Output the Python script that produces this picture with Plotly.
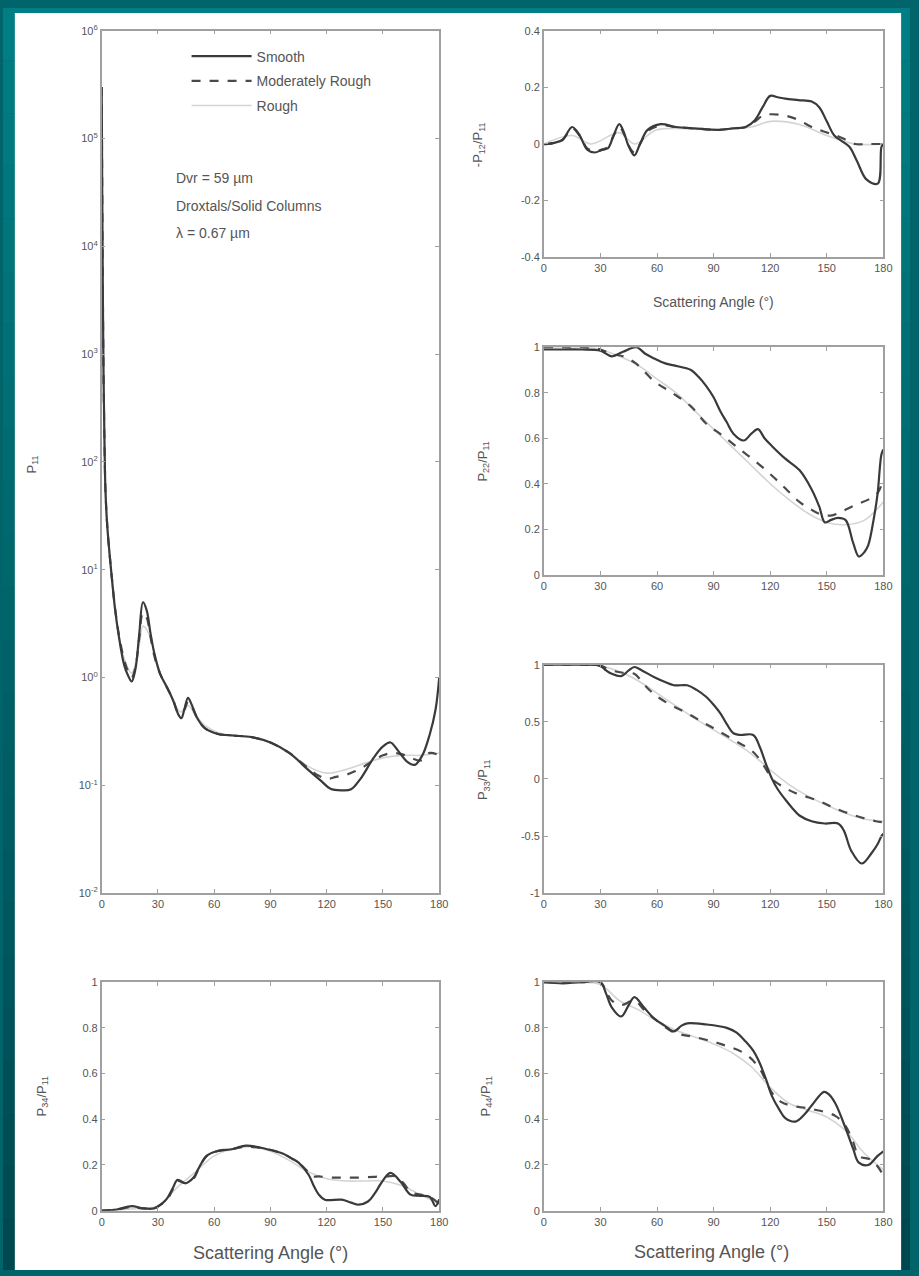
import plotly.graph_objects as go

W, H = 919, 1276

# ---------------- data ----------------
ticks_angle = [0, 30, 60, 90, 120, 150, 180]

# P11 (log scale)
p11_s_ang = [0, 0.3, 0.6, 1, 1.5, 2, 3, 5, 7, 9, 12, 14, 16, 18, 20, 22, 24, 26, 28, 31, 35, 38, 41, 42.5, 44, 46, 48, 51, 55,
             62, 70, 80, 90, 100, 110, 117, 122, 128, 133, 138, 145, 150, 154, 158, 163, 167, 171, 175, 178, 180]
p11_s_val = [3e5, 3e4, 4e3, 600, 150, 55, 25, 10, 4.5, 2.5, 1.3, 1.05, 0.92, 1.2, 2.5, 5.0, 4.2, 2.6, 1.7, 1.1, 0.8, 0.62, 0.45, 0.42, 0.5, 0.65, 0.56, 0.42, 0.34,
             0.3, 0.29, 0.28, 0.25, 0.2, 0.14, 0.11, 0.093, 0.09, 0.092, 0.115, 0.18, 0.23, 0.25, 0.21, 0.165, 0.155, 0.19, 0.3, 0.5, 1.0]
p11_m_ang = [0, 0.3, 0.6, 1, 1.5, 2, 3, 5, 7, 9, 12, 14, 16, 18, 20, 22, 24, 26, 28, 31, 35, 38, 41, 44, 46, 48, 51, 55,
             62, 70, 80, 90, 100, 110, 115, 120, 125, 130, 135, 140, 145, 150, 155, 160, 165, 170, 175, 180]
p11_m_val = [3e5, 3e4, 4e3, 600, 150, 55, 25, 10, 4.6, 2.6, 1.45, 1.15, 1.0, 1.25, 2.3, 4.0, 3.6, 2.4, 1.6, 1.1, 0.8, 0.63, 0.47, 0.5, 0.6, 0.54, 0.42, 0.34,
             0.3, 0.29, 0.28, 0.25, 0.2, 0.145, 0.125, 0.115, 0.12, 0.125, 0.135, 0.15, 0.17, 0.19, 0.2, 0.195, 0.18, 0.17, 0.2, 0.19]
p11_r_ang = [0, 0.3, 0.6, 1, 1.5, 2, 3, 5, 7, 9, 12, 16, 20, 22, 25, 28, 32, 38, 42, 46, 50, 55, 62, 70, 80, 90, 100, 110,
             120, 130, 140, 150, 160, 170, 180]
p11_r_val = [2e5, 2.5e4, 3.5e3, 550, 140, 52, 24, 9.5, 4.4, 2.6, 1.5, 1.1, 2.0, 3.0, 2.6, 1.7, 1.0, 0.62, 0.48, 0.55, 0.45, 0.36,
             0.31, 0.29, 0.28, 0.25, 0.2, 0.15, 0.13, 0.14, 0.16, 0.18, 0.19, 0.19, 0.2]

# -P12/P11
p12_s_ang = [0, 2, 6, 10, 15, 19, 23, 27, 31, 34, 37, 40, 42.5, 44.5, 48, 51, 55, 62, 70, 80, 93, 100, 107, 112, 116, 120, 124, 128,
             135, 142, 146, 150, 154, 158, 162, 166, 171, 177, 179, 180]
p12_s_val = [0, 0, 0.005, 0.015, 0.06, 0.03, -0.02, -0.03, -0.02, -0.015, 0.03, 0.07, 0.04, 0.0, -0.04, 0.0, 0.05, 0.07, 0.06, 0.055, 0.05, 0.055, 0.06, 0.085, 0.13, 0.17, 0.165, 0.16,
             0.155, 0.15, 0.13, 0.08, 0.03, 0.01, -0.01, -0.06, -0.125, -0.14, -0.01, 0.0]
p12_m_ang = [0, 2, 6, 10, 15, 19, 23, 27, 31, 34, 37, 40, 42.5, 44.5, 48, 51, 55, 62, 70, 80, 93, 100, 107, 112, 116, 120, 128,
             135, 142, 148, 155, 160, 165, 172, 180]
p12_m_val = [0, 0, 0.005, 0.015, 0.055, 0.03, -0.015, -0.025, -0.02, -0.01, 0.03, 0.06, 0.035, 0.0, -0.03, 0.0, 0.045, 0.065, 0.06, 0.055, 0.05, 0.055, 0.06, 0.08, 0.1, 0.105, 0.1,
             0.085, 0.06, 0.045, 0.03, 0.015, 0.0, 0.0, 0.0]
p12_r_ang = [0, 15, 25, 40, 48, 60, 90, 110, 120, 135, 150, 165, 180]
p12_r_val = [0, 0.03, 0.0, 0.04, 0.0, 0.05, 0.05, 0.06, 0.08, 0.07, 0.03, 0.0, 0.0]

# P22/P11
p22_s_ang = [0, 10, 20, 30, 36, 42, 49, 54, 58.6, 64, 69, 78, 82, 86, 90, 93.5, 97, 100.5, 106, 110, 113.5, 117, 121, 128,
             135.5, 142, 146, 149, 152, 156, 160, 164, 167, 170, 172, 175, 177, 179, 180]
p22_s_val = [0.99, 0.99, 0.99, 0.985, 0.96, 0.98, 1.0, 0.97, 0.95, 0.93, 0.92, 0.9, 0.87, 0.83, 0.78, 0.72, 0.67, 0.62, 0.59, 0.62, 0.64, 0.6, 0.565, 0.51,
             0.46, 0.375, 0.3, 0.23, 0.24, 0.25, 0.24, 0.14, 0.08, 0.1, 0.13, 0.25, 0.36, 0.53, 0.55]
p22_m_ang = [0, 10, 20, 30, 36, 42, 48.6, 58.6, 68, 78, 86, 95, 104, 112, 121, 128, 135.5, 142, 147, 152, 156, 161, 166, 172, 177, 180]
p22_m_val = [1.0, 1.0, 1.0, 0.99, 0.97, 0.96, 0.93, 0.85, 0.8, 0.74, 0.665, 0.61, 0.55, 0.5, 0.435, 0.38, 0.32, 0.285, 0.265, 0.26, 0.27, 0.29, 0.31, 0.33, 0.36, 0.42]
p22_r_ang = [0, 20, 30, 40, 50, 60, 70, 80, 90, 100, 110, 120, 130, 140, 150, 160, 170, 180]
p22_r_val = [1.0, 1.0, 0.99, 0.96, 0.92, 0.86, 0.8, 0.72, 0.64, 0.56, 0.48, 0.4, 0.33, 0.27, 0.23, 0.22, 0.24, 0.32]

# P33/P11
p33_s_ang = [0, 10, 20, 30, 33, 36, 41, 45, 48, 52, 58.6, 64, 69, 76, 81, 86, 90, 93.6, 97, 100.5, 104, 111, 114.5, 118, 121, 124,
             128, 132, 135.5, 142, 149, 156, 159, 163, 168.5, 173.7, 177, 179, 180]
p33_s_val = [1.0, 1.0, 1.0, 0.99, 0.95, 0.92, 0.9, 0.95, 0.98, 0.95, 0.89, 0.85, 0.82, 0.82, 0.78, 0.72, 0.65, 0.575, 0.48, 0.4, 0.385, 0.385, 0.28, 0.12, 0.0, -0.09,
             -0.18, -0.26, -0.32, -0.37, -0.39, -0.39, -0.45, -0.63, -0.74, -0.65, -0.57, -0.5, -0.48]
p33_m_ang = [0, 20, 30, 36, 42, 48, 53, 58.6, 66, 76, 85, 93.6, 104, 110, 114.5, 118, 121, 127, 133, 140, 147, 152, 158, 165, 171, 176, 180]
p33_m_val = [1.0, 1.0, 0.99, 0.95, 0.93, 0.92, 0.83, 0.74, 0.66, 0.575, 0.49, 0.41, 0.31, 0.25, 0.17, 0.08, 0.0, -0.07, -0.12, -0.16, -0.2, -0.24, -0.28, -0.32, -0.35, -0.37, -0.38]
p33_r_ang = [0, 20, 30, 40, 50, 60, 70, 80, 90, 100, 110, 120, 130, 140, 150, 160, 170, 180]
p33_r_val = [1.0, 1.0, 0.99, 0.94, 0.86, 0.75, 0.64, 0.53, 0.43, 0.33, 0.22, 0.08, -0.05, -0.15, -0.23, -0.3, -0.35, -0.37]

# P44/P11
p44_s_ang = [0, 10, 20, 30, 33, 36, 41, 45, 48, 53, 58.6, 64, 69, 73, 76, 86, 97, 102, 107, 111, 114.5, 118, 121, 125, 128, 133.5,
             138, 142, 148.5, 151, 154.5, 160, 164, 167, 172, 177, 180]
p44_s_val = [1.0, 0.995, 1.0, 1.0, 0.95, 0.89, 0.85, 0.9, 0.935, 0.89, 0.84, 0.81, 0.785, 0.81, 0.82, 0.815, 0.8, 0.78, 0.74, 0.7, 0.645, 0.57, 0.5, 0.44, 0.405, 0.39,
             0.42, 0.46, 0.52, 0.51, 0.47, 0.36, 0.27, 0.21, 0.2, 0.24, 0.26]
p44_m_ang = [0, 10, 20, 30, 33, 36, 41, 48, 53, 58.6, 69, 80, 93.6, 107, 114.5, 121, 126, 131, 142, 154.5, 160, 164, 167, 174, 180]
p44_m_val = [1.0, 1.0, 1.0, 1.0, 0.96, 0.92, 0.9, 0.92, 0.88, 0.84, 0.78, 0.76, 0.73, 0.685, 0.62, 0.515, 0.475, 0.46, 0.445, 0.415, 0.37, 0.3, 0.24, 0.22, 0.155]
p44_r_ang = [0, 20, 30, 40, 50, 60, 70, 80, 90, 100, 110, 120, 130, 140, 150, 160, 170, 180]
p44_r_val = [1.0, 1.0, 0.99, 0.92, 0.88, 0.83, 0.79, 0.76, 0.73, 0.69, 0.63, 0.54, 0.47, 0.44, 0.41, 0.35, 0.25, 0.18]

# P34/P11
p34_s_ang = [0, 8, 16, 22, 28, 32, 35, 38, 40.5, 44.7, 49, 52, 56, 61.4, 70, 77, 87.7, 96.5, 101, 105, 110.5, 113, 115.8, 119, 128,
             133, 137, 142, 146, 149, 154, 159.5, 164.7, 170, 175, 178, 180]
p34_s_val = [0, 0.005, 0.02, 0.01, 0.01, 0.03, 0.055, 0.1, 0.135, 0.12, 0.145, 0.19, 0.24, 0.26, 0.27, 0.285, 0.27, 0.25, 0.23, 0.21, 0.155, 0.11, 0.07, 0.048, 0.048,
             0.035, 0.026, 0.04, 0.08, 0.12, 0.165, 0.125, 0.07, 0.065, 0.06, 0.02, 0.05]
p34_m_ang = [0, 8, 16, 22, 28, 32, 35, 38, 40.5, 44.7, 49, 52, 56, 61.4, 70, 77, 87.7, 96.5, 101, 105, 110, 112, 115.8, 122, 128,
             137, 145, 152, 157, 161, 165, 170, 175, 180]
p34_m_val = [0, 0.005, 0.015, 0.01, 0.01, 0.03, 0.05, 0.095, 0.13, 0.12, 0.14, 0.19, 0.24, 0.26, 0.27, 0.28, 0.27, 0.25, 0.23, 0.21, 0.17, 0.15, 0.15, 0.145, 0.145,
             0.145, 0.148, 0.15, 0.15, 0.12, 0.08, 0.07, 0.06, 0.03]
p34_r_ang = [0, 20, 30, 40, 50, 60, 70, 80, 90, 100, 110, 120, 130, 140, 150, 160, 170, 180]
p34_r_val = [0, 0.01, 0.02, 0.1, 0.17, 0.24, 0.27, 0.28, 0.26, 0.22, 0.17, 0.14, 0.13, 0.13, 0.13, 0.11, 0.07, 0.03]

series_names = ["Smooth", "Moderately Rough", "Rough"]

# ---------------- styling helpers ----------------
FONT = "Arial"
TXT = "#555555"
AX = "#a0a0a0"
S_STYLE = dict(color="#3a3a3a", width=2.2)
M_STYLE = dict(color="#4a4a4a", width=2.2, dash="dash")
R_STYLE = dict(color="#d4d4d4", width=1.6)
LEGENDS = ["legend", "legend2", "legend3"]


def px2x(px):
    return px / W


def py2y(py):
    return 1 - py / H


fig = go.Figure()

panels = [
    ("p11", "x", "y", (100, 442, 23, 895), (p11_s_ang, p11_s_val, p11_m_ang, p11_m_val, p11_r_ang, p11_r_val)),
    ("p12", "x2", "y2", (548, 892, 23, 252), (p12_s_ang, p12_s_val, p12_m_ang, p12_m_val, p12_r_ang, p12_r_val)),
    ("p22", "x3", "y3", (548, 892, 343, 573), (p22_s_ang, p22_s_val, p22_m_ang, p22_m_val, p22_r_ang, p22_r_val)),
    ("p33", "x4", "y4", (548, 892, 664, 895), (p33_s_ang, p33_s_val, p33_m_ang, p33_m_val, p33_r_ang, p33_r_val)),
    ("p34", "x5", "y5", (100, 442, 985, 1216), (p34_s_ang, p34_s_val, p34_m_ang, p34_m_val, p34_r_ang, p34_r_val)),
    ("p44", "x6", "y6", (548, 892, 985, 1216), (p44_s_ang, p44_s_val, p44_m_ang, p44_m_val, p44_r_ang, p44_r_val)),
]

for i, (name, xa, ya, box, d) in enumerate(panels):
    sa, sv, ma, mv, ra, rv = d
    first = (i == 0)
    fig.add_trace(go.Scatter(x=ra, y=rv, xaxis=xa, yaxis=ya, mode="lines", line=R_STYLE, line_shape="spline",
                             name=series_names[2], legend=LEGENDS[2], showlegend=first))
    fig.add_trace(go.Scatter(x=ma, y=mv, xaxis=xa, yaxis=ya, mode="lines", line=M_STYLE, line_shape="spline",
                             name=series_names[1], legend=LEGENDS[1], showlegend=first))
    fig.add_trace(go.Scatter(x=sa, y=sv, xaxis=xa, yaxis=ya, mode="lines", line=S_STYLE, line_shape="spline",
                             name=series_names[0], legend=LEGENDS[0], showlegend=first))

common_ax = dict(showline=True, mirror="ticks", linecolor=AX, linewidth=1.5, ticks="inside", ticklen=4,
                 tickcolor=AX, tickwidth=1, showgrid=False, zeroline=False,
                 tickfont=dict(family=FONT, size=11, color=TXT))

y_specs = {
    "p11": dict(type="log", range=[-2, 6], tickvals=[1e-2, 1e-1, 1, 10, 100, 1e3, 1e4, 1e5, 1e6],
                ticktext=["10<sup>-2</sup>", "10<sup>-1</sup>", "10<sup>0</sup>", "10<sup>1</sup>", "10<sup>2</sup>",
                          "10<sup>3</sup>", "10<sup>4</sup>", "10<sup>5</sup>", "10<sup>6</sup>"]),
    "p12": dict(range=[-0.4, 0.4], tickvals=[-0.4, -0.2, 0, 0.2, 0.4], ticktext=["-0.4", "-0.2", "0", "0.2", "0.4"]),
    "p22": dict(range=[0, 1], tickvals=[0, 0.2, 0.4, 0.6, 0.8, 1], ticktext=["0", "0.2", "0.4", "0.6", "0.8", "1"]),
    "p33": dict(range=[-1, 1], tickvals=[-1, -0.5, 0, 0.5, 1], ticktext=["-1", "-0.5", "0", "0.5", "1"]),
    "p34": dict(range=[0, 1], tickvals=[0, 0.2, 0.4, 0.6, 0.8, 1], ticktext=["0", "0.2", "0.4", "0.6", "0.8", "1"]),
    "p44": dict(range=[0, 1], tickvals=[0, 0.2, 0.4, 0.6, 0.8, 1], ticktext=["0", "0.2", "0.4", "0.6", "0.8", "1"]),
}

layout_axes = {}
for i, (name, xa, ya, box, d) in enumerate(panels):
    x0, x1, y0, y1 = box
    xkey = "xaxis" if xa == "x" else "xaxis" + xa[1:]
    ykey = "yaxis" if ya == "y" else "yaxis" + ya[1:]
    layout_axes[xkey] = dict(common_ax, domain=[px2x(x0), px2x(x1)], anchor=ya, range=[0, 180],
                             tickvals=ticks_angle, ticktext=[str(t) for t in ticks_angle])
    layout_axes[ykey] = dict(common_ax, domain=[py2y(y1), py2y(y0)], anchor=xa, **y_specs[name])

# ---------------- background (teal frame with white sheet) ----------------
shapes = []
top_col = (0, 126, 131)
bot_col = (0, 72, 80)
n = 24
for k in range(n):
    t = k / (n - 1)
    c = tuple(int(round(top_col[j] + (bot_col[j] - top_col[j]) * t)) for j in range(3))
    shapes.append(dict(type="rect", xref="paper", yref="paper", x0=0, x1=1,
                       y0=1 - (k + 1) / n, y1=1 - k / n, fillcolor="rgb(%d,%d,%d)" % c,
                       line=dict(width=0), layer="below"))
shapes.append(dict(type="rect", xref="paper", yref="paper", x0=px2x(12), x1=px2x(910), y0=0, y1=py2y(5),
                   fillcolor="white", line=dict(width=0), layer="below"))

# ---------------- annotations ----------------
ann = []


def ytitle(text, px, py, size=13):
    ann.append(dict(text=text, x=px2x(px), y=py2y(py), xref="paper", yref="paper", showarrow=False,
                    textangle=-90, font=dict(family=FONT, size=size, color=TXT), xanchor="center", yanchor="middle"))


def xtitle(text, px, py, size):
    ann.append(dict(text=text, x=px2x(px), y=py2y(py), xref="paper", yref="paper", showarrow=False,
                    font=dict(family=FONT, size=size, color=TXT), xanchor="center", yanchor="middle"))


ytitle("P<sub>11</sub>", 30, 462)
ytitle("-P<sub>12</sub>/P<sub>11</sub>", 482, 138)
ytitle("P<sub>22</sub>/P<sub>11</sub>", 487, 458)
ytitle("P<sub>33</sub>/P<sub>11</sub>", 487, 780)
ytitle("P<sub>34</sub>/P<sub>11</sub>", 40, 1100)
ytitle("P<sub>44</sub>/P<sub>11</sub>", 490, 1100)

xtitle("Scattering Angle (°)", 720, 297, 14)
xtitle("Scattering Angle (°)", 271, 1259, 18)
xtitle("Scattering Angle (°)", 718, 1258, 18)

for txt, py in [("Dvr = 59 µm", 172), ("Droxtals/Solid Columns", 200), ("λ = 0.67 µm", 228)]:
    ann.append(dict(text=txt, x=px2x(173), y=py2y(py), xref="paper", yref="paper", showarrow=False,
                    xanchor="left", yanchor="middle", font=dict(family=FONT, size=14, color=TXT)))

legend_common = dict(xanchor="left", yanchor="middle", bgcolor="rgba(0,0,0,0)",
                     font=dict(family=FONT, size=14, color=TXT), itemwidth=60)

fig.update_layout(
    width=W, height=H,
    margin=dict(l=0, r=0, t=0, b=0),
    paper_bgcolor="rgb(0,100,106)",
    plot_bgcolor="white",
    shapes=shapes,
    annotations=ann,
    showlegend=True,
    legend=dict(legend_common, x=px2x(186), y=py2y(49)),
    legend2=dict(legend_common, x=px2x(186), y=py2y(74)),
    legend3=dict(legend_common, x=px2x(186), y=py2y(99)),
    **layout_axes,
)

post = (
    "document.documentElement.style.margin='0';"
    "document.documentElement.style.padding='0';"
    "document.documentElement.style.overflow='hidden';"
    "document.body.style.margin='0';"
    "document.body.style.padding='0';"
    "document.body.style.overflow='hidden';"
    "document.body.style.background='rgb(0,100,106)';"
)

fig.write_html("out.html", config={"displayModeBar": False}, post_script=post)
